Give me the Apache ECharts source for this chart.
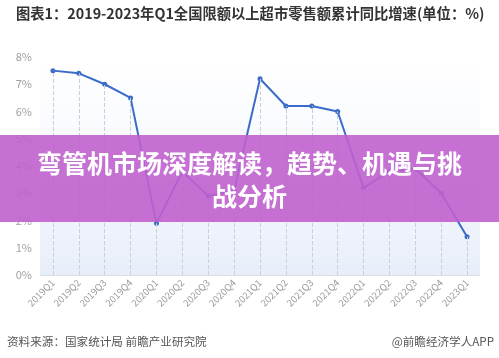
<!DOCTYPE html>
<html><head><meta charset="utf-8">
<script src="https://cdn.jsdelivr.net/npm/echarts@6/dist/echarts.min.js"></script>
<style>html,body{margin:0;padding:0;background:#fff}#c{width:499px;height:358px}</style>
</head><body><div id="c"></div>
<script>
var categories = ['2019Q1','2019Q2','2019Q3','2019Q4','2020Q1','2020Q2','2020Q3','2020Q4','2021Q1','2021Q2','2021Q3','2021Q4','2022Q1','2022Q2','2022Q3','2022Q4','2023Q1'];
var growth = [7.5, 7.4, 7.0, 6.5, 1.9, 3.8, 2.9, 3.1, 7.2, 6.2, 6.2, 6.0, 3.2, 3.8, 3.9, 3.0, 1.4];
var yTicks = [0, 1, 2, 3, 4, 5, 6, 7, 8];
var titleText = '图表1：2019-2023年Q1全国限额以上超市零售额累计同比增速(单位：%)';
var sourceText = '资料来源：国家统计局 前瞻产业研究院';
var brandText = '@前瞻经济学人APP';
var bannerLines = ['弯管机市场深度解读，趋势、机遇与挑', '战分析'];

var chart = echarts.init(document.getElementById('c'), null, {renderer: 'canvas'});
var FONT = '"Noto Sans CJK SC", "Noto Sans", sans-serif';
var drops = growth.map(function (v, i) { return [{coord: [i, 0]}, {coord: [i, v]}]; });
chart.setOption({
  animation: false,
  textStyle: {fontFamily: FONT},
  grid: {left: 40, right: 19, top: 57, bottom: 83, show: true, borderWidth: 0,
    backgroundColor: {type: 'linear', x: 0, y: 0, x2: 0, y2: 1, colorStops: [
      {offset: 0, color: 'rgba(255,255,255,1)'}, {offset: 0.45, color: '#f7f9fe'}, {offset: 1, color: '#e8eef9'}]}},
  xAxis: {type: 'category', data: categories, boundaryGap: true,
    axisLine: {lineStyle: {color: '#d8dde6'}}, axisTick: {show: false},
    axisLabel: {rotate: 45, color: '#9a9a9a', fontSize: 9.5, margin: 6, interval: 0},
    splitLine: {show: false}},
  yAxis: {type: 'value', min: 0, max: 8, interval: 1,
    axisLine: {show: false}, axisTick: {show: false},
    axisLabel: {color: '#a0a0a0', fontSize: 11, formatter: '{value}%', margin: 8},
    splitLine: {show: false}},
  series: [{type: 'line', data: growth, symbol: 'circle', symbolSize: 5,
    lineStyle: {color: '#3a6cc8', width: 2}, itemStyle: {color: '#3a6cc8'},
    markLine: {silent: true, symbol: 'none', label: {show: false},
      lineStyle: {color: '#c9ced8', type: 'dashed', width: 1}, data: drops}}],
  graphic: [
    {type: 'text', left: 16, top: 6, style: {text: titleText, fill: '#333', font: 'bold 14.3px ' + FONT}},
    {type: 'text', left: 7, top: 336, style: {text: sourceText, fill: '#555', font: '11.6px ' + FONT}},
    {type: 'text', right: 5, top: 336, style: {text: brandText, fill: '#555', font: '11.6px ' + FONT}},
    {type: 'rect', shape: {x: 0, y: 135, width: 499, height: 87}, style: {fill: 'rgba(192,96,206,0.9)'}, z: 100},
    {type: 'text', x: 249.5, y: 163, z: 101, style: {text: bannerLines[0], fill: '#fff', font: 'bold 25px ' + FONT, textAlign: 'center', textVerticalAlign: 'middle'}},
    {type: 'text', x: 249.5, y: 196, z: 101, style: {text: bannerLines[1], fill: '#fff', font: 'bold 25px ' + FONT, textAlign: 'center', textVerticalAlign: 'middle'}}
  ]
});
</script></body></html>
